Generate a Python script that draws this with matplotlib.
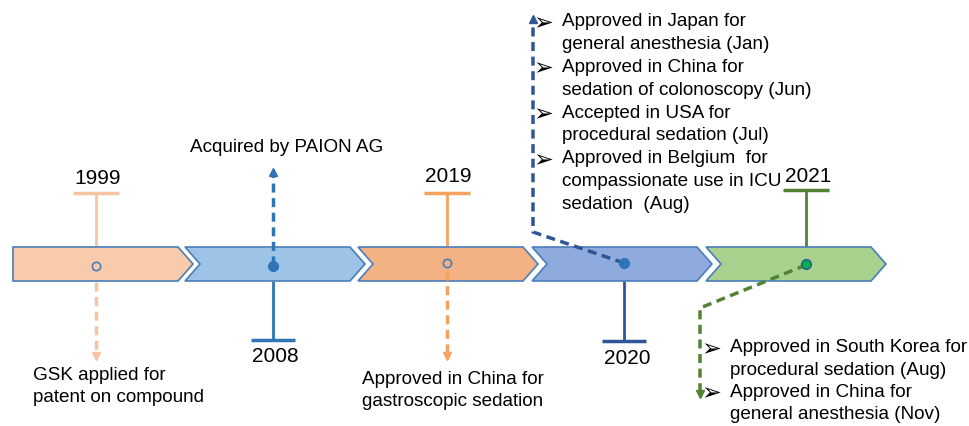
import matplotlib
matplotlib.use("Agg")
import matplotlib.pyplot as plt
from matplotlib.patches import Polygon

years = ["1999", "2008", "2019", "2020", "2021"]
event_x = [96, 273, 447, 624, 806]
chevron_colors = ["#f8cbad", "#9dc3e6", "#f4b183", "#8faadc", "#a9d18e"]
line_colors = ["#f6c4a2", "#2e75b6", "#f4a460", "#2f5597", "#548235"]
text_1999 = ["GSK applied for", "patent on compound"]
text_2008 = ["Acquired by PAION AG"]
text_2019 = ["Approved in China for", "gastroscopic sedation"]
text_2020 = [["Approved in Japan for", "general anesthesia (Jan)"],
             ["Approved in China for", "sedation of colonoscopy (Jun)"],
             ["Accepted in USA for", "procedural sedation (Jul)"],
             ["Approved in Belgium  for", "compassionate use in ICU", "sedation  (Aug)"]]
text_2021 = [["Approved in South Korea for", "procedural sedation (Aug)"],
             ["Approved in China for", "general anesthesia (Nov)"]]

FONT = ["Liberation Sans", "DejaVu Sans"]
fig = plt.figure(figsize=(9.69, 4.26), dpi=100)
ax = fig.add_axes([0, 0, 1, 1])
ax.set_xlim(0, 969)
ax.set_ylim(426, 0)
ax.axis("off")

# chevrons
top, bot = 247, 281
mid = (top + bot) / 2
starts = [13, 185, 358, 532, 706]
length, tip = 180, 15
for i, (s, c) in enumerate(zip(starts, chevron_colors)):
    e = s + length
    if i == 0:
        pts = [(s, top), (e - tip, top), (e, mid), (e - tip, bot), (s, bot)]
    else:
        pts = [(s, top), (e - tip, top), (e, mid), (e - tip, bot), (s, bot), (s + tip, mid)]
    ax.add_patch(Polygon(pts, closed=True, facecolor=c, edgecolor="#4a7ebb", lw=1.2, zorder=2))

fs = 13.6
yfs = 15
bfs = 17

def tbar(x, y_from, y_to, color, half=23):
    ax.plot([x, x], [y_from, y_to], color=color, lw=2, zorder=1, solid_capstyle="butt")
    ax.plot([x - half, x + half], [y_to, y_to], color=color, lw=2.5, zorder=1, solid_capstyle="butt")

def dashed(xs, ys, color, head):
    ax.plot(xs, ys, color=color, lw=2.5, ls=(0, (2.6, 1.6)), zorder=3)
    ax.plot([xs[-1]], [ys[-1]], marker=head, color=color, ms=6, zorder=3)

# 1999
x = event_x[0]
tbar(x, top, 193, line_colors[0])
ax.text(x + 2, 178, years[0], fontsize=yfs, ha="center", va="center", family=FONT)
dashed([x, x], [bot + 1, 356], line_colors[0], "v")
ax.plot(x, 266, marker="o", mfc="none", mec="#4a7ebb", ms=6, mew=1.2, zorder=4)
for k, t in enumerate(text_1999):
    ax.text(33, 375 + 22 * k, t, fontsize=fs, ha="left", va="center", family=FONT)

# 2008
x = event_x[1]
dashed([x, x], [265, 172], line_colors[1], "^")
ax.text(190, 148, text_2008[0], fontsize=fs, ha="left", va="center", family=FONT)
tbar(x, bot, 340, line_colors[1], 22)
ax.text(x + 2, 357, years[1], fontsize=yfs, ha="center", va="center", family=FONT)
ax.plot(x, 266, marker="o", color=line_colors[1], ms=7, zorder=4)

# 2019
x = event_x[2]
tbar(x, top, 193, line_colors[2])
ax.text(x + 1, 177, years[2], fontsize=yfs, ha="center", va="center", family=FONT)
dashed([x, x], [bot - 10, 356], line_colors[2], "v")
ax.plot(x, 263, marker="o", mfc="none", mec="#4a7ebb", ms=6, mew=1.2, zorder=4)
for k, t in enumerate(text_2019):
    ax.text(362, 380 + 22 * k, t, fontsize=fs, ha="left", va="center", family=FONT)

# 2020
x = event_x[3]
dashed([x, 533, 533], [263, 232, 19], line_colors[3], "^")
tbar(x, bot, 341, line_colors[3], 22)
ax.text(x + 3, 358, years[3], fontsize=yfs, ha="center", va="center", family=FONT)
ax.plot(x, 263, marker="o", color="#2e75b6", ms=7, zorder=4)
y = 22
for item in text_2020:
    ax.text(533, y + 1, "\u27a2", fontsize=bfs, ha="left", va="center", family=["DejaVu Sans"])
    for t in item:
        ax.text(562, y, t, fontsize=fs, ha="left", va="center", family=FONT)
        y += 22.8

# 2021
x = event_x[4]
tbar(x, top, 190, line_colors[4])
ax.text(x + 2, 176, years[4], fontsize=yfs, ha="center", va="center", family=FONT)
dashed([x, 700, 700], [265, 308, 394], line_colors[4], "v")
ax.plot(x, 264, marker="o", color="#00b050", mec="#2f5597", ms=7, mew=1, zorder=4)
y = 348
for item in text_2021:
    ax.text(701, y + 1, "\u27a2", fontsize=bfs, ha="left", va="center", family=["DejaVu Sans"])
    for t in item:
        ax.text(730, y, t, fontsize=fs, ha="left", va="center", family=FONT)
        y += 22.3

fig.savefig("out.png", dpi=100)
